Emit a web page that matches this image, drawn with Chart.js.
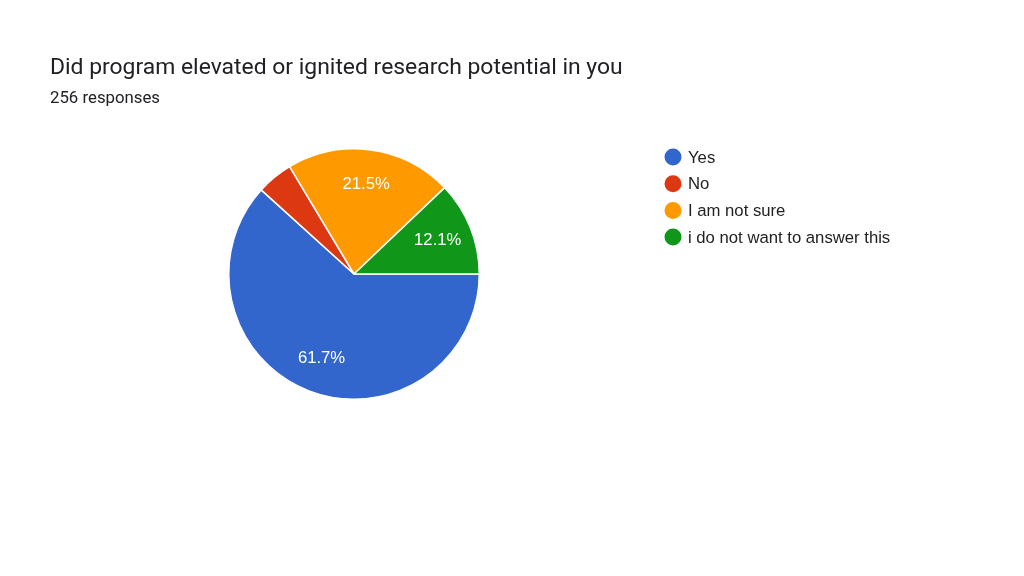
<!DOCTYPE html>
<html>
<head>
<meta charset="utf-8">
<script src="https://cdn.jsdelivr.net/npm/chart.js@4"></script>
<style>
  html, body { margin: 0; padding: 0; background: #fff; }
  #wrap { position: relative; width: 1024px; height: 576px; overflow: hidden; }
  #title { position: absolute; left: 50px; top: 53px; font: 22.9px Roboto, Arial, sans-serif; color: #202124; white-space: nowrap; }
  #sub { position: absolute; left: 50px; top: 87px; font: 16.8px Roboto, Arial, sans-serif; color: #202124; white-space: nowrap; }
  canvas { position: absolute; left: 0; top: 0; }
</style>
</head>
<body>
<div id="wrap">
  <canvas id="chart" width="1024" height="576"></canvas>
  <div id="title">Did program elevated or ignited research potential in you</div>
  <div id="sub">256 responses</div>
</div>
<script>
const labels = ["Yes", "No", "I am not sure", "i do not want to answer this"];
const counts = [158, 12, 55, 31];
const colors = ["#3366cc", "#dc3912", "#ff9900", "#109618"];

const total = counts.reduce((a, b) => a + b, 0);

// percentage labels inside the slices (small slices get none, like google forms)
const sliceLabels = {
  id: "sliceLabels",
  afterDatasetsDraw(chart) {
    const { ctx } = chart;
    const meta = chart.getDatasetMeta(0);
    ctx.save();
    ctx.font = "16.7px Arial, 'Liberation Sans', sans-serif";
    ctx.fillStyle = "#fff";
    ctx.textAlign = "center";
    ctx.textBaseline = "middle";
    meta.data.forEach((arc, i) => {
      const share = counts[i] / total;
      if (share < 0.05) return;
      const mid = (arc.startAngle + arc.endAngle) / 2;
      const r = arc.outerRadius * 0.72;
      ctx.fillText((share * 100).toFixed(1) + "%", arc.x + Math.cos(mid) * r, arc.y + Math.sin(mid) * r);
    });
    ctx.restore();
  },
};

// legend on the right with round markers
const sideLegend = {
  id: "sideLegend",
  afterDraw(chart) {
    const { ctx } = chart;
    ctx.save();
    ctx.font = "16.7px Arial, 'Liberation Sans', sans-serif";
    ctx.textBaseline = "middle";
    chart.data.labels.forEach((lab, i) => {
      const y = 157 + i * 26.7;
      ctx.beginPath();
      ctx.arc(673, y, 8.5, 0, Math.PI * 2);
      ctx.fillStyle = colors[i];
      ctx.fill();
      ctx.fillStyle = "#222";
      ctx.fillText(lab, 688, y + 1);
    });
    ctx.restore();
  },
};

new Chart(document.getElementById("chart"), {
  type: "pie",
  data: {
    labels,
    datasets: [{
      data: counts,
      backgroundColor: colors,
      borderColor: "#fff",
      borderWidth: 1.5,
    }],
  },
  options: {
    responsive: false,
    animation: false,
    rotation: 90,
    layout: { padding: { left: 228, right: 544, top: 148, bottom: 176 } },
    plugins: { legend: { display: false }, tooltip: { enabled: false } },
  },
  plugins: [sliceLabels, sideLegend],
});
</script>
</body>
</html>
